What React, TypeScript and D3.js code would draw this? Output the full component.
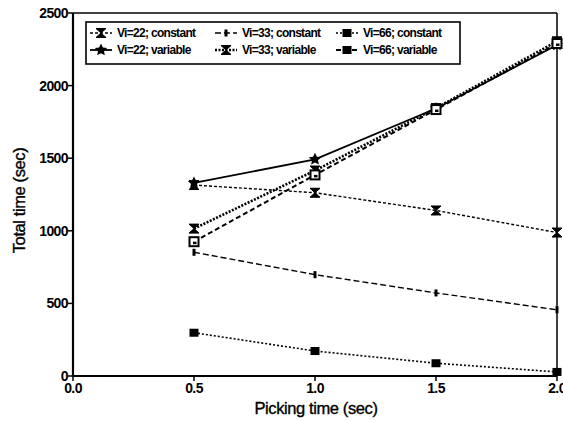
import React from "react";
import * as d3 from "d3";

const xValues = [0.5, 1.0, 1.5, 2.0];
const vi22Constant = [1315, 1262, 1140, 988];
const vi33Constant = [852, 698, 572, 456];
const vi66Constant = [298, 172, 88, 28];
const vi22Variable = [1330, 1492, 1842, 2280];
const vi33Variable = [1015, 1415, 1845, 2305];
const vi66Variable = [925, 1385, 1835, 2290];
const xTicks = [0, 0.5, 1.0, 1.5, 2.0];
const yTicks = [0, 500, 1000, 1500, 2000, 2500];
const seriesNames = [
  "Vi=22; constant",
  "Vi=33; constant",
  "Vi=66; constant",
  "Vi=22; variable",
  "Vi=33; variable",
  "Vi=66; variable",
];

type Style = { dash: string; width: number; marker: string };
const styles: Style[] = [
  { dash: "3,2", width: 1.4, marker: "bowtie" },
  { dash: "6,3", width: 1.4, marker: "tick" },
  { dash: "2,2", width: 1.6, marker: "square" },
  { dash: "", width: 1.8, marker: "star" },
  { dash: "2,1.5", width: 2.6, marker: "bowtie" },
  { dash: "5,3", width: 2, marker: "opensquare" },
];

const W = 563;
const H = 421;
const left = 73;
const right = 557;
const top = 13;
const bottom = 376;

function Marker({ type, x, y, legend }: { type: string; x: number; y: number; legend?: boolean }) {
  if (type === "bowtie") {
    return (
      <path
        d={`M${x - 5},${y - 4.5}L${x + 5},${y - 4.5}L${x - 5},${y + 4.5}L${x + 5},${y + 4.5}Z`}
        fill="#000"
        stroke="#000"
        strokeWidth={1}
      />
    );
  }
  if (type === "tick") {
    return <rect x={x - 1.5} y={y - 3.5} width={3} height={7} fill="#000" />;
  }
  if (type === "square") {
    return <rect x={x - 4.5} y={y - 4} width={9} height={8} fill="#000" />;
  }
  if (type === "opensquare") {
    if (legend) return <rect x={x - 4.5} y={y - 4} width={9} height={8} fill="#000" />;
    return (
      <g>
        <rect x={x - 4.5} y={y - 4.5} width={9} height={9} fill="#fff" stroke="#000" strokeWidth={2} />
        <rect x={x - 1} y={y} width={3.5} height={2.5} fill="#000" />
      </g>
    );
  }
  const pts = d3.range(10).map((i) => {
    const a = (Math.PI / 5) * i - Math.PI / 2;
    const r = i % 2 === 0 ? 6.5 : 3.2;
    return [x + r * Math.cos(a), y + r * Math.sin(a)];
  });
  return <polygon points={pts.map((p) => p.join(",")).join(" ")} fill="#000" />;
}

export default function App() {
  const x = d3.scaleLinear().domain([0, 2]).range([left, right]);
  const y = d3.scaleLinear().domain([0, 2500]).range([bottom, top]);
  const allSeries = [vi22Constant, vi33Constant, vi66Constant, vi22Variable, vi33Variable, vi66Variable];
  const line = d3
    .line<number>()
    .x((_, i) => x(xValues[i]))
    .y((d) => y(d));

  const font = "'Liberation Sans', Arial, sans-serif";
  const legendCols = [
    { sx: 90, tx: 117 },
    { sx: 215, tx: 242 },
    { sx: 336, tx: 363 },
  ];
  const legendRows = [33, 50];

  return (
    <svg
      width={W}
      height={H}
      style={{ position: "absolute", left: 0, top: 0, background: "#fff" }}
      fontFamily={font}
    >
      <line x1={left} x2={right} y1={top} y2={top} stroke="#000" strokeWidth={1.5} />
      <line x1={right} x2={right} y1={top} y2={bottom} stroke="#000" strokeWidth={1.5} />
      <line x1={left} x2={left} y1={top} y2={bottom} stroke="#000" strokeWidth={2.2} />
      <line x1={left} x2={right} y1={bottom} y2={bottom} stroke="#000" strokeWidth={2.2} />

      {yTicks.map((t) => (
        <g key={"y" + t}>
          <line x1={left - 5} x2={left} y1={y(t)} y2={y(t)} stroke="#000" strokeWidth={1.5} />
          <text
            x={left - 5}
            y={y(t)}
            dy="0.35em"
            textAnchor="end"
            fontSize={14}
            fontWeight="bold"
            letterSpacing={-0.6}
          >
            {t}
          </text>
        </g>
      ))}
      {xTicks.map((t) => (
        <g key={"x" + t}>
          <line x1={x(t)} x2={x(t)} y1={bottom} y2={bottom + 5} stroke="#000" strokeWidth={1.5} />
          <text
            x={x(t)}
            y={bottom + 17}
            textAnchor="middle"
            fontSize={14}
            fontWeight="bold"
            letterSpacing={-0.6}
          >
            {t.toFixed(1)}
          </text>
        </g>
      ))}

      <text
        x={316}
        y={414}
        textAnchor="middle"
        fontSize={16.5}
        letterSpacing={-0.4}
        stroke="#000"
        strokeWidth={0.35}
      >
        Picking time (sec)
      </text>
      <text
        transform={`translate(25,${(top + bottom) / 2 + 6}) rotate(-90)`}
        textAnchor="middle"
        fontSize={16.5}
        letterSpacing={-0.4}
        stroke="#000"
        strokeWidth={0.35}
      >
        Total time (sec)
      </text>

      {allSeries.map((s, i) => (
        <g key={"s" + i}>
          <path
            d={line(s) || ""}
            fill="none"
            stroke="#000"
            strokeWidth={styles[i].width}
            strokeDasharray={styles[i].dash}
          />
          {s.map((v, j) => (
            <Marker key={j} type={styles[i].marker} x={x(xValues[j])} y={y(v)} />
          ))}
        </g>
      ))}

      <rect x={86} y={22} width={374} height={42} fill="#fff" stroke="#000" strokeWidth={1.6} />
      {seriesNames.map((name, i) => {
        const c = legendCols[i % 3];
        const ry = legendRows[Math.floor(i / 3)];
        return (
          <g key={"l" + i}>
            <line
              x1={c.sx}
              x2={c.sx + 22}
              y1={ry}
              y2={ry}
              stroke="#000"
              strokeWidth={styles[i].width}
              strokeDasharray={styles[i].dash}
            />
            <Marker type={styles[i].marker} x={c.sx + 11} y={ry} legend />
            <text x={c.tx} y={ry} dy="0.35em" fontSize={12} fontWeight="bold" letterSpacing={-0.7}>
              {name}
            </text>
          </g>
        );
      })}
    </svg>
  );
}
